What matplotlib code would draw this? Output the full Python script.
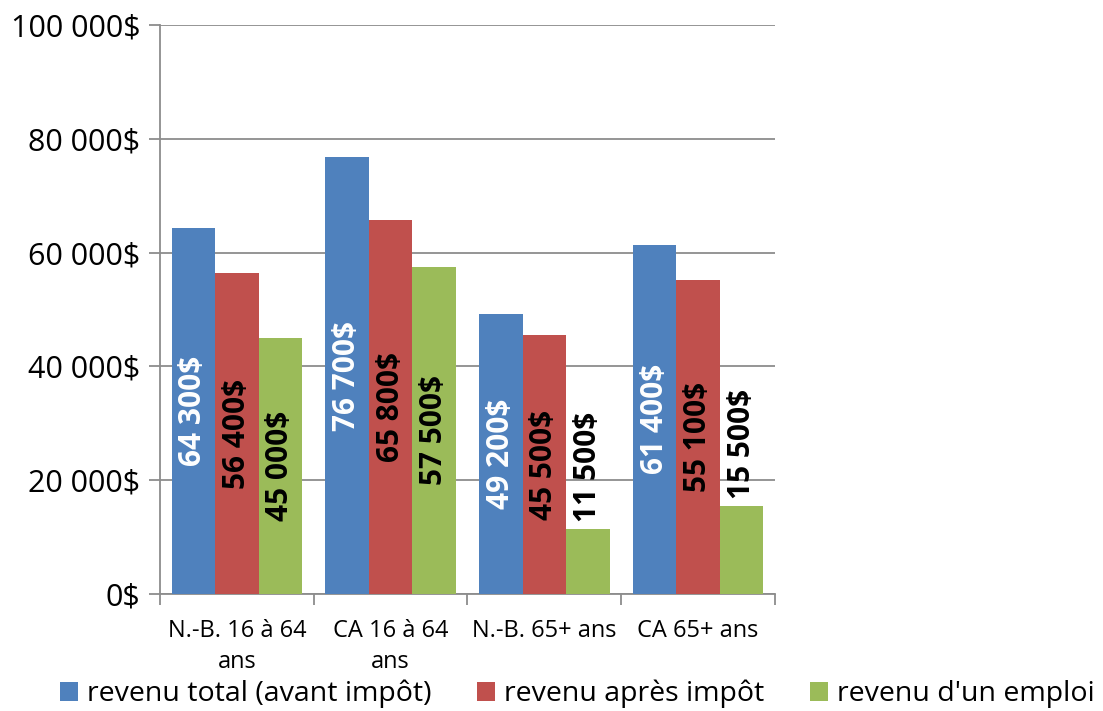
import numpy as np
import matplotlib.pyplot as plt

plt.rcParams['font.family'] = ['Open Sans', 'DejaVu Sans']

categories = ["N.-B. 16 à 64\nans", "CA 16 à 64\nans", "N.-B. 65+ ans", "CA 65+ ans"]
series_names = ["revenu total (avant impôt)", "revenu après impôt", "revenu d'un emploi"]
revenu_total = [64300, 76700, 49200, 61400]
revenu_apres = [56400, 65800, 45500, 55100]
revenu_emploi = [45000, 57500, 11500, 15500]

colors = ["#4F81BD", "#C0504D", "#9BBB59"]
label_colors = ["white", "black", "black"]


def fmt(v):
    return "{:,}$".format(int(v)).replace(",", " ")


def main():
    fig = plt.figure(figsize=(11.03, 7.11), dpi=100)
    ax = fig.add_axes([0.145, 0.1646, 0.5576, 0.8004])

    x = np.arange(len(categories))
    width = 0.283
    all_series = [revenu_total, revenu_apres, revenu_emploi]

    for i, values in enumerate(all_series):
        pos = x + (i - 1) * width
        ax.bar(pos, values, width, color=colors[i], label=series_names[i], zorder=3)
        for px, v in zip(pos, values):
            if v < 25000:
                # etiquette trop longue pour la barre: au-dessus
                ax.annotate(fmt(v), (px, v), xytext=(0, 5), textcoords="offset points",
                            rotation=90, ha="center", va="bottom", fontsize=21.5,
                            fontweight="bold", color="black", zorder=4)
            else:
                ax.text(px, v / 2, fmt(v), rotation=90, ha="center", va="center",
                        fontsize=21.5, fontweight="bold", color=label_colors[i], zorder=4)

    ax.set_ylim(0, 100000)
    ax.set_xlim(-0.5, len(categories) - 0.5)
    ax.set_yticks(np.arange(0, 100001, 20000))
    ax.set_yticklabels([fmt(v) for v in np.arange(0, 100001, 20000)], fontsize=22)
    ax.yaxis.grid(True, color="#8c8c8c", linewidth=1.3, zorder=0)

    ax.set_xticks(x)
    ax.set_xticklabels(categories, fontsize=17, linespacing=1.4)
    ax.set_xticks(np.arange(-0.5, len(categories), 1), minor=True)
    ax.tick_params(axis="x", which="major", length=0, pad=18)
    ax.tick_params(axis="x", which="minor", length=8, color="#8c8c8c", width=1.3)
    ax.tick_params(axis="y", length=8, color="#8c8c8c", width=1.3, pad=6)

    for side in ["top", "right"]:
        ax.spines[side].set_visible(False)
    for side in ["left", "bottom"]:
        ax.spines[side].set_color("#8c8c8c")
        ax.spines[side].set_linewidth(1.3)

    fig.legend(loc="lower center", bbox_to_anchor=(0.523, -0.032), ncol=3, frameon=False,
               fontsize=20.5, handlelength=0.65, handleheight=0.65, handletextpad=0.3,
               columnspacing=1.6)

    plt.savefig("out.png", dpi=100)
    plt.close()


if __name__ == "__main__":
    main()
